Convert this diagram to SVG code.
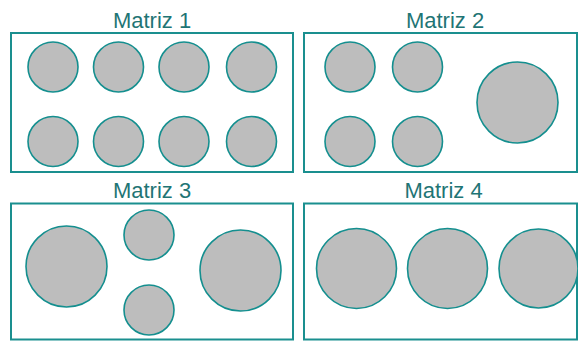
<svg xmlns="http://www.w3.org/2000/svg" width="578" height="343" viewBox="0 0 578 343">
<style>
.frame{fill:#ffffff;stroke:#1a8f8f;stroke-width:2}
.c{fill:#bdbdbd;stroke:#148f8f;stroke-width:1.6}
.t{font-family:"Liberation Sans",Arial,sans-serif;font-size:22px;fill:#1f7575;text-anchor:middle}
</style>
<rect x="0" y="0" width="578" height="343" fill="#ffffff"/>
<g id="matriz1">
<text class="t" x="152" y="28">Matriz 1</text>
<rect class="frame" x="11" y="33" width="282" height="139"/>
<circle class="c" cx="53" cy="67" r="25"/>
<circle class="c" cx="118.5" cy="67" r="25"/>
<circle class="c" cx="184" cy="67" r="25"/>
<circle class="c" cx="251.5" cy="67" r="25"/>
<circle class="c" cx="53" cy="141.5" r="25"/>
<circle class="c" cx="118.5" cy="141.5" r="25"/>
<circle class="c" cx="184" cy="141.5" r="25"/>
<circle class="c" cx="251.5" cy="141.5" r="25"/>
</g>
<g id="matriz2">
<text class="t" x="445" y="28">Matriz 2</text>
<rect class="frame" x="304" y="33" width="273" height="139"/>
<circle class="c" cx="350" cy="67" r="25"/>
<circle class="c" cx="417.5" cy="67" r="25"/>
<circle class="c" cx="350" cy="141.5" r="25"/>
<circle class="c" cx="417.5" cy="141.5" r="25"/>
<circle class="c" cx="517.5" cy="102.5" r="40.5"/>
</g>
<g id="matriz3">
<text class="t" x="152" y="198">Matriz 3</text>
<rect class="frame" x="11" y="203.5" width="282" height="136"/>
<circle class="c" cx="66.5" cy="266.5" r="40.5"/>
<circle class="c" cx="149" cy="235" r="25"/>
<circle class="c" cx="149" cy="310" r="25"/>
<circle class="c" cx="240.5" cy="270.5" r="40.5"/>
</g>
<g id="matriz4">
<text class="t" x="443.5" y="198">Matriz 4</text>
<rect class="frame" x="304" y="203.5" width="273" height="136"/>
<circle class="c" cx="356.5" cy="268.5" r="40"/>
<circle class="c" cx="447.5" cy="268.5" r="40"/>
<circle class="c" cx="538.5" cy="268.5" r="39.5"/>
</g>
<g id="connectors"></g>
</svg>
